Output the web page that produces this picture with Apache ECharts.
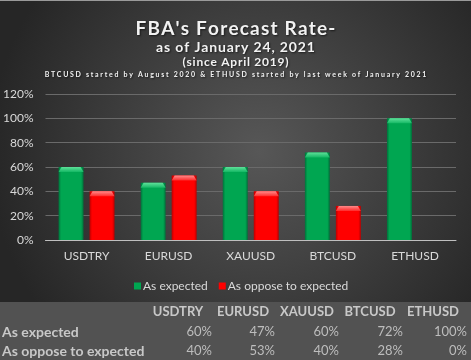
<!DOCTYPE html>
<html><head><meta charset="utf-8">
<script src="https://cdn.jsdelivr.net/npm/echarts@6/dist/echarts.min.js"></script>
<style>html,body{margin:0;padding:0;background:#333}#c{width:471px;height:360px}</style>
</head><body><div id="c"></div>
<script>
const categories = ['USDTRY','EURUSD','XAUUSD','BTCUSD','ETHUSD'];
const asExpected = [60,47,60,72,100];
const asOppose = [40,53,40,28,0];
const seriesNames = ['As expected','As oppose to expected'];
const titleLines = ["FBA's Forecast Rate-", 'as of January 24, 2021', '(since April 2019)',
  'BTCUSD started by August 2020 & ETHUSD started by last week of January 2021'];

const FONT = 'Lato, "Open Sans", sans-serif';
const HS = '\u200A';
const spaced = (s, sep) => s.split('').join(sep);
const chart = echarts.init(document.getElementById('c'));

const palettes = [
  {base:'#00a651', dark:'#00703a', light:'#5fe09a', capBase:'#14b864'},
  {base:'#ff0000', dark:'#b80000', light:'#ff8a8a', capBase:'#ff2a2a'}
];
const BAR_W = 25, BAR_GAP = 6, CAP_H = 5, BEVEL = 3;

function makeRender(si){
  const p = palettes[si];
  return function(params, api){
    const v = api.value(1);
    if (!v) return null;
    const i = api.value(0);
    const c0 = api.coord([i, 0]);
    const c1 = api.coord([i, v]);
    const cx = c0[0];
    const left = si === 0 ? cx - BAR_GAP/2 - BAR_W : cx + BAR_GAP/2;
    const top = c1[1], bottom = c0[1];
    return {type:'group', children:[
      {type:'rect', shape:{x:left, y:top, width:BAR_W, height:bottom-top},
        style:{fill:{type:'linear',x:0,y:0,x2:1,y2:0,colorStops:[
          {offset:0,color:p.dark},{offset:0.1,color:p.base},{offset:0.9,color:p.base},{offset:1,color:p.dark}]}}},
      {type:'polygon', shape:{points:[[left,top+CAP_H],[left+BEVEL,top],[left+BAR_W-BEVEL,top],[left+BAR_W,top+CAP_H]]},
        style:{fill:{type:'linear',x:0,y:0,x2:0,y2:1,colorStops:[{offset:0,color:p.light},{offset:1,color:p.capBase}]}}}
    ]};
  };
}

const tableColRight = [212,275,339,403,467];
const headerCenters = [178,243,307,370,433];
const tableEls = [];
tableEls.push({type:'rect',left:0,top:302,shape:{width:471,height:58},style:{fill:'#525252'},z:0});
tableEls.push({type:'rect',left:0,top:0,shape:{width:471,height:1},style:{fill:'#9a9a9a'},z:0});
categories.forEach((c,i)=>{
  tableEls.push({type:'text',x:headerCenters[i],y:312,style:{text:c,fill:'#c8c8c8',font:'bold 13px '+FONT,textAlign:'center',textVerticalAlign:'middle'},z:5});
});
const rows=[asExpected,asOppose];
rows.forEach((r,ri)=>{
  const y = ri===0?332:351;
  tableEls.push({type:'text',x:2,y:y,style:{text:seriesNames[ri],fill:'#c8c8c8',font:'bold 14px '+FONT,textAlign:'left',textVerticalAlign:'middle'},z:5});
  r.forEach((v,i)=>{
    tableEls.push({type:'text',x:tableColRight[i],y:y,style:{text:v+'%',fill:'#bdbdbd',font:'13px '+FONT,textAlign:'right',textVerticalAlign:'middle'},z:5});
  });
});

const tStyle = (size)=>({color:'#f2f2f2',fontFamily:FONT,fontWeight:'bold',fontSize:size,
  textShadowColor:'rgba(0,0,0,0.6)',textShadowBlur:2,textShadowOffsetX:1,textShadowOffsetY:1});

chart.setOption({
  backgroundColor:{type:'radial',x:0.55,y:0.42,r:0.75,colorStops:[{offset:0,color:'#575757'},{offset:1,color:'#262626'}]},
  animation:false,
  title:[
    {text:spaced(titleLines[0],HS),left:'center',top:14,textStyle:tStyle(19)},
    {text:spaced(titleLines[1],HS),left:'center',top:35,textStyle:tStyle(14)},
    {text:spaced(titleLines[2],HS),left:'center',top:51,textStyle:tStyle(12)},
    {text:spaced(titleLines[3],' '),left:'center',top:66,textStyle:tStyle(7)}
  ],
  legend:{data:seriesNames,top:275,left:129,itemWidth:7,itemHeight:7,itemGap:11,icon:'rect',
    textStyle:{color:'#d9d9d9',fontFamily:FONT,fontSize:12,padding:[0,0,0,-3]}},
  grid:{left:45,right:15,top:94,bottom:120,containLabel:false},
  xAxis:{type:'category',data:categories,axisLine:{lineStyle:{color:'#bfbfbf',width:1}},axisTick:{show:false},
    axisLabel:{color:'#d9d9d9',fontFamily:FONT,fontSize:12,margin:10}},
  yAxis:{type:'value',min:0,max:120,interval:20,axisLine:{show:false},axisTick:{show:false},
    splitLine:{lineStyle:{color:'#6a6a6a',width:1}},
    axisLabel:{color:'#d9d9d9',fontFamily:FONT,fontSize:12,margin:12,formatter:v=>v+'%'}},
  series:[
    {name:seriesNames[0],type:'custom',renderItem:makeRender(0),data:asExpected.map((v,i)=>[i,v]),
      itemStyle:{color:'#00a651'},encode:{x:0,y:1},z:3},
    {name:seriesNames[1],type:'custom',renderItem:makeRender(1),data:asOppose.map((v,i)=>[i,v]),
      itemStyle:{color:'#ff0000'},encode:{x:0,y:1},z:3}
  ],
  graphic:tableEls
});
</script></body></html>
